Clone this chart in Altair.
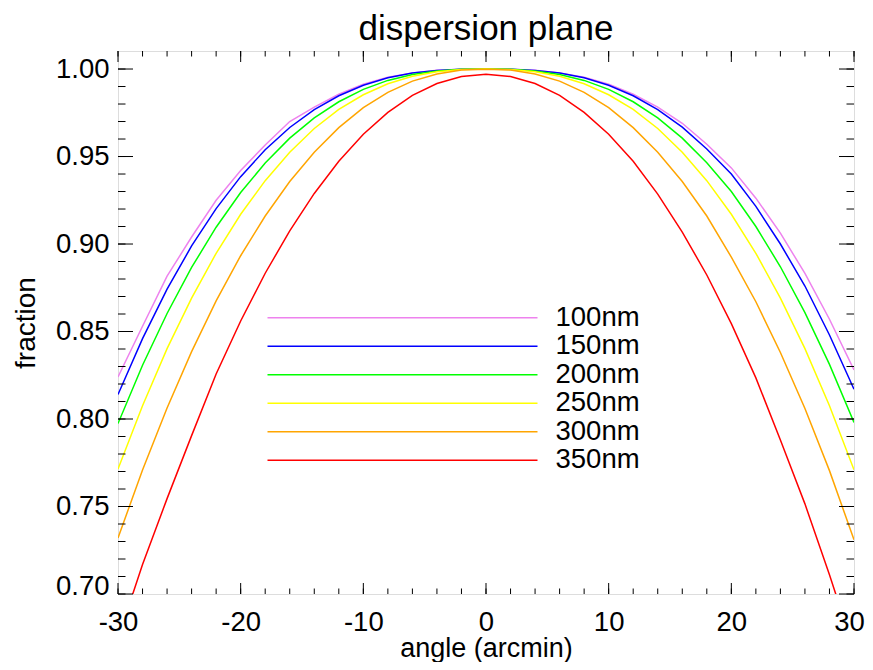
import altair as alt
import pandas as pd

# ---------------- data ----------------
angles = list(range(-30, 31, 2))
series = ["100nm", "150nm", "200nm", "250nm", "300nm", "350nm"]
colors = ["#EE82EE", "#0000FF", "#00FF00", "#FFFF00", "#FFA500", "#FF0000"]

v100 = [0.824, 0.853, 0.8816, 0.904, 0.925, 0.942, 0.9566, 0.970, 0.9782, 0.9856,
        0.9913, 0.9953, 0.9978, 0.9993, 0.9999, 1.0000, 0.9999, 0.9993, 0.9978, 0.9953,
        0.9913, 0.9856, 0.9782, 0.9690, 0.9570, 0.9435, 0.9262, 0.9062, 0.8832, 0.857, 0.828]
v150 = [0.814, 0.8459, 0.8742, 0.8989, 0.9202, 0.9385, 0.9539, 0.9666, 0.9768, 0.9847,
        0.9907, 0.9950, 0.9977, 0.9992, 0.9999, 1.0000, 0.9999, 0.9992, 0.9977, 0.9950,
        0.9907, 0.9847, 0.9768, 0.9668, 0.9543, 0.9400, 0.9215, 0.9000, 0.8760, 0.8480, 0.817]
v200 = [0.7974, 0.8307, 0.8603, 0.8866, 0.9096, 0.9294, 0.9463, 0.9605, 0.9721, 0.9813,
        0.9884, 0.9935, 0.9969, 0.9989, 0.9998, 1.0000, 0.9998, 0.9989, 0.9969, 0.9935,
        0.9884, 0.9813, 0.9721, 0.9605, 0.9465, 0.9300, 0.9100, 0.8870, 0.8608, 0.8312, 0.798]
v250 = [0.7714, 0.8076, 0.8402, 0.8691, 0.8947, 0.9170, 0.9362, 0.9525, 0.9660, 0.9769,
        0.9853, 0.9916, 0.9959, 0.9985, 0.9997, 1.0000, 0.9997, 0.9985, 0.9959, 0.9916,
        0.9853, 0.9769, 0.9660, 0.9525, 0.9362, 0.9170, 0.8947, 0.8691, 0.8402, 0.8076, 0.771]
v300 = [0.732, 0.7709, 0.8063, 0.8385, 0.8675, 0.8933, 0.9160, 0.9357, 0.9525, 0.9665,
        0.9779, 0.9867, 0.9931, 0.9972, 0.9994, 0.9999, 0.9994, 0.9972, 0.9931, 0.9867,
        0.9779, 0.9665, 0.9525, 0.9357, 0.9160, 0.8925, 0.8670, 0.8380, 0.8060, 0.7705, 0.731]
v350 = [0.6745, 0.7169, 0.7545, 0.7905, 0.8257, 0.856, 0.8833, 0.9075, 0.9289, 0.9473,
        0.9627, 0.9752, 0.9849, 0.9917, 0.9957, 0.997, 0.9957, 0.9917, 0.9849, 0.9752,
        0.9627, 0.9473, 0.9285, 0.9068, 0.8823, 0.8545, 0.8235, 0.7880, 0.7515, 0.7110, 0.668]

x_major = [-30, -20, -10, 0, 10, 20, 30]
x_minor = list(range(-30, 31, 2))
y_major = [0.70, 0.75, 0.80, 0.85, 0.90, 0.95, 1.00]
y_minor = [round(0.70 + 0.01 * i, 2) for i in range(31)]

# ---------------- build table ----------------
rows = []
for name, vals in zip(series, [v100, v150, v200, v250, v300, v350]):
    for a, v in zip(angles, vals):
        rows.append({"angle": a, "fraction": v, "series": name})
df = pd.DataFrame(rows)

W, H = 736, 543
FONT = "Liberation Sans"
FS = 27.5
xscale = alt.Scale(domain=[-30, 30], nice=False, zero=False)
yscale = alt.Scale(domain=[0.70, 1.0103], nice=False, zero=False)

xaxis = alt.Axis(values=x_major, ticks=False, domain=False, grid=False,
                 labelExpr="'' + datum.value",
                 labelOffset={"condition": {"test": "datum.value >= 30", "value": -5}, "value": 0},
                 labelFont=FONT, labelFontSize=FS, labelColor="black",
                 labelPadding=14, labelFlush=False,
                 title="angle (arcmin)", titleFont=FONT, titleFontSize=27,
                 titleFontWeight="normal", titleColor="black", titlePadding=0)
yaxis = alt.Axis(values=y_major, format=".2f", ticks=False, domain=False, grid=False,
                 labelFont=FONT, labelFontSize=FS, labelColor="black",
                 labelPadding=9, labelFlush=False,
                 labelBaseline={"condition": {"test": "datum.value <= 0.7001", "value": "alphabetic"},
                                "value": "middle"},
                 title="fraction", titleFont=FONT, titleFontSize=28,
                 titleFontWeight="normal", titleColor="black", titlePadding=15)

X = alt.X("angle:Q", scale=xscale, axis=xaxis)
Y = alt.Y("fraction:Q", scale=yscale, axis=yaxis)

lines = alt.Chart(df).mark_line(clip=True, strokeWidth=1.5).encode(
    x=X, y=Y,
    color=alt.Color("series:N", scale=alt.Scale(domain=series, range=colors),
                    legend=alt.Legend(orient="none", legendX=148.5, legendY=252.7, title=None,
                                      direction="vertical", symbolType="stroke",
                                      symbolSize=72900, symbolStrokeWidth=1.5,
                                      clipHeight=28, rowPadding=0.5, padding=0,
                                      symbolOffset=0, labelOffset=17,
                                      labelFont=FONT, labelFontSize=FS, labelColor="black")),
)

xt_df = pd.DataFrame({"angle": x_minor})
xT_df = pd.DataFrame({"angle": x_major})
yt_df = pd.DataFrame({"fraction": y_minor})
yT_df = pd.DataFrame({"fraction": y_major})

def xticks(d, ln):
    base = alt.Chart(d).mark_rule(color="black", strokeWidth=1)
    bottom = base.encode(x=X, y=alt.value(H), y2=alt.value(H - ln))
    top = base.encode(x=X, y=alt.value(0), y2=alt.value(ln))
    return [bottom, top]

def yticks(d, ln):
    base = alt.Chart(d).mark_rule(color="black", strokeWidth=1)
    left = base.encode(y=Y, x=alt.value(0), x2=alt.value(ln))
    right = base.encode(y=Y, x=alt.value(W), x2=alt.value(W - ln))
    return [left, right]

layers = [lines] + xticks(xt_df, 5.5) + xticks(xT_df, 11) + yticks(yt_df, 7.5) + yticks(yT_df, 15)

chart = alt.layer(*layers).properties(
    width=W, height=H,
    title=alt.TitleParams("dispersion plane", font=FONT, fontSize=35, fontWeight="normal",
                          color="black", anchor="middle", offset=4),
    autosize=alt.AutoSizeParams(type="none"),
    padding={"left": 110, "top": 43, "right": 11, "bottom": 68},
).configure_view(stroke="black", strokeWidth=1.2).configure(background="white")

chart.save("out.html", embed_options={"renderer": "svg", "actions": False})
